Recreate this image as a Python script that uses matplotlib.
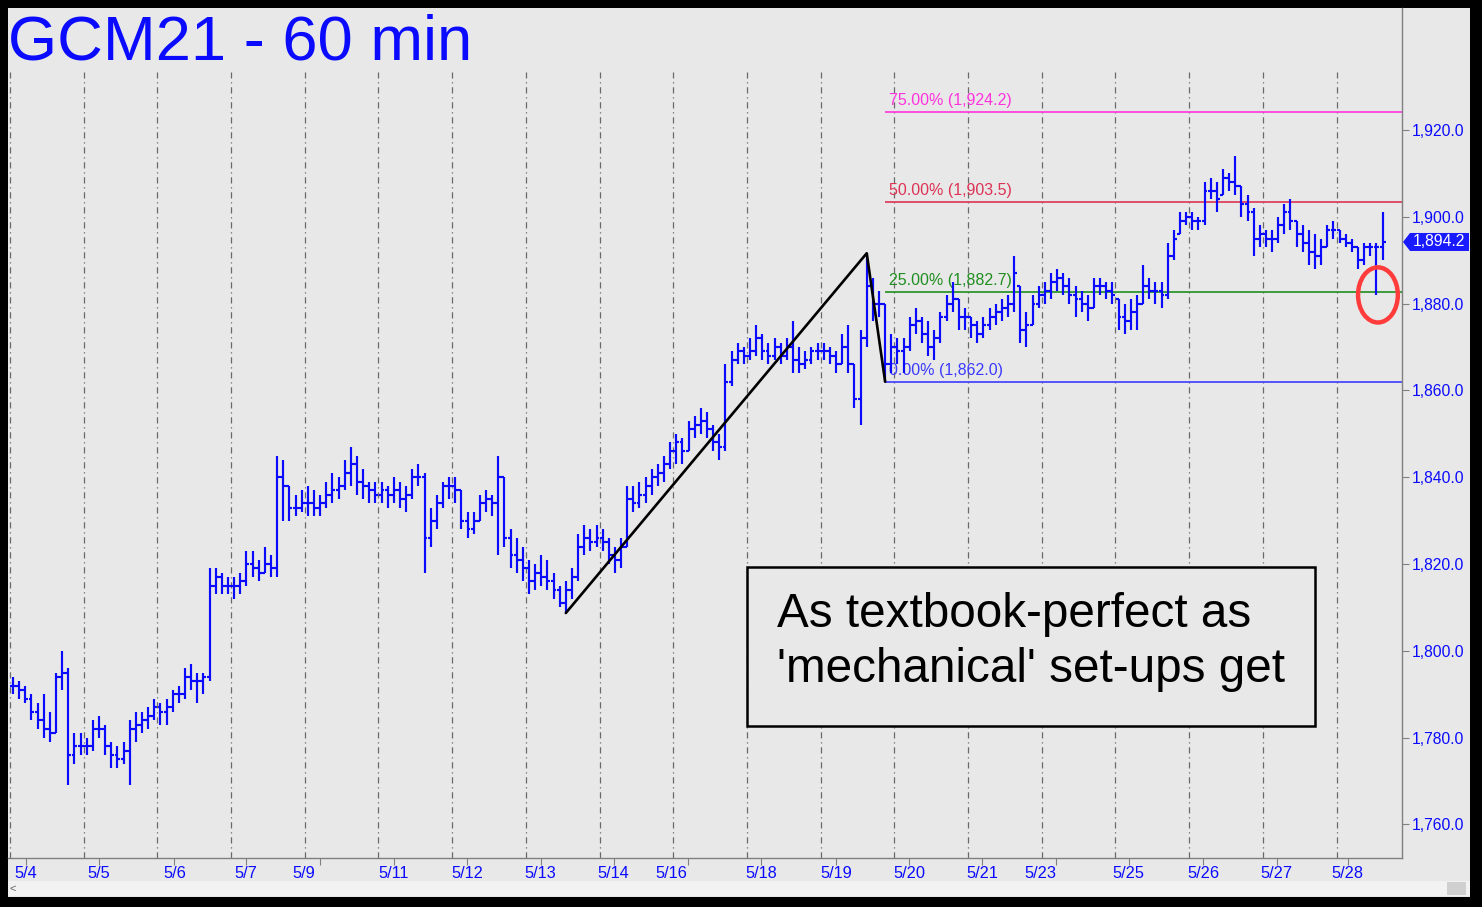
import matplotlib
matplotlib.use('Agg')
import matplotlib.pyplot as plt
import matplotlib.transforms as mtransforms
from matplotlib.patches import Rectangle, Ellipse, Polygon
import numpy as np

plt.rcParams['font.family'] = ['Liberation Sans', 'DejaVu Sans']

# ---------------- data ----------------
title = "GCM21 - 60 min"
bars_per_day = 12

highs = [
    1794, 1793, 1792, 1790, 1788, 1790, 1786, 1795, 1800, 1796, 1781, 1781,
    1780, 1784, 1785, 1783, 1779, 1778, 1779, 1784, 1786, 1786, 1787, 1789,
    1788, 1789, 1791, 1792, 1796, 1797, 1795, 1795, 1819, 1819, 1818, 1817,
    1817, 1818, 1823, 1823, 1821, 1824, 1822, 1845, 1844, 1838, 1836, 1837,
    1838, 1837, 1836, 1839, 1841, 1840, 1844, 1847, 1845, 1842, 1839, 1839,
    1839, 1838, 1840, 1839, 1838, 1842, 1843, 1841, 1833, 1836, 1839, 1840,
    1840, 1837, 1832, 1832, 1836, 1837, 1836, 1845, 1840, 1828, 1826, 1824,
    1821, 1820, 1822, 1821, 1818, 1815, 1816, 1819, 1827, 1829, 1828, 1829,
    1828, 1826, 1824, 1826, 1838, 1838, 1839, 1840, 1842, 1843, 1845, 1848,
    1850, 1849, 1853, 1854, 1856, 1855, 1852, 1850, 1866, 1869, 1871, 1870,
    1872, 1875, 1873, 1871, 1872, 1871, 1872, 1876, 1870, 1869, 1870, 1871,
    1871, 1870, 1869, 1873, 1875, 1866, 1874, 1891.6, 1886, 1883, 1880, 1873,
    1872, 1872, 1877, 1879, 1877, 1876, 1874, 1878, 1882, 1885, 1881, 1879,
    1877, 1876, 1877, 1879, 1880, 1881, 1882, 1891, 1884, 1878, 1882, 1884,
    1885, 1887, 1888, 1887, 1886, 1884, 1883, 1882, 1886, 1886, 1885, 1885,
    1881, 1880, 1881, 1882, 1889, 1886, 1885, 1885, 1894, 1897, 1901, 1901,
    1901, 1900, 1908, 1909, 1908, 1911, 1910, 1914, 1907, 1905, 1902, 1898,
    1897, 1897, 1900, 1903, 1904, 1899, 1898, 1897, 1896, 1895, 1898, 1899,
    1897, 1896, 1895, 1893, 1894, 1894, 1894, 1901,
]
lows = [
    1790, 1789, 1788, 1784, 1782, 1780, 1779, 1781, 1791, 1769, 1774, 1776,
    1776, 1777, 1780, 1776, 1773, 1773, 1774, 1769, 1779, 1781, 1782, 1784,
    1783, 1783, 1786, 1788, 1789, 1791, 1788, 1790, 1793, 1813, 1813, 1813,
    1812, 1813, 1815, 1817, 1816, 1818, 1817, 1817, 1830, 1830, 1831, 1832,
    1831, 1831, 1831, 1833, 1834, 1835, 1837, 1838, 1836, 1835, 1834, 1834,
    1834, 1833, 1834, 1833, 1832, 1835, 1838, 1818, 1824, 1828, 1833, 1835,
    1834, 1828, 1826, 1827, 1830, 1832, 1831, 1822, 1824, 1819, 1818, 1816,
    1813, 1814, 1815, 1814, 1812, 1810, 1808.7, 1812, 1816, 1822, 1823, 1824,
    1823, 1820, 1818, 1819, 1824, 1832, 1833, 1834, 1836, 1838, 1839, 1842,
    1843, 1843, 1846, 1849, 1850, 1849, 1846, 1844, 1846, 1861, 1866, 1866,
    1867, 1868, 1867, 1866, 1867, 1866, 1867, 1864, 1864, 1865, 1866, 1867,
    1867, 1866, 1864, 1866, 1864, 1856, 1852, 1870, 1876, 1877, 1862.0, 1864,
    1866, 1864, 1869, 1873, 1871, 1868, 1867, 1871, 1876, 1878, 1874, 1874,
    1872, 1871, 1872, 1874, 1875, 1876, 1877, 1878, 1871, 1870, 1875, 1879,
    1880, 1881, 1883, 1882, 1880, 1877, 1878, 1876, 1879, 1882, 1881, 1880,
    1874, 1873, 1874, 1874, 1880, 1881, 1880, 1879, 1881, 1890, 1896, 1898,
    1897, 1897, 1898, 1904, 1901, 1905, 1906, 1905, 1900, 1899, 1891, 1893,
    1893, 1892, 1894, 1896, 1897, 1893, 1892, 1889, 1888, 1889, 1893, 1895,
    1894, 1893, 1892, 1888, 1889, 1891, 1882, 1890,
]
closes = [
    1792, 1791, 1789, 1786, 1784, 1782, 1781, 1794, 1795, 1776, 1778, 1778,
    1778, 1782, 1782, 1778, 1776, 1775, 1777, 1782, 1783, 1784, 1785, 1787,
    1786, 1787, 1790, 1790, 1794, 1793, 1793, 1794, 1815, 1817, 1815, 1815,
    1815, 1816, 1820, 1819, 1818, 1820, 1819, 1840, 1838, 1833, 1833, 1834,
    1834, 1833, 1834, 1836, 1837, 1838, 1841, 1843, 1839, 1838, 1837, 1836,
    1837, 1836, 1837, 1835, 1836, 1840, 1840, 1826, 1830, 1834, 1838, 1838,
    1837, 1830, 1828, 1830, 1834, 1835, 1834, 1840, 1826, 1822, 1821, 1819,
    1816, 1818, 1817, 1816, 1814, 1811, 1814, 1817, 1824, 1826, 1825, 1826,
    1825, 1822, 1821, 1824, 1835, 1834, 1836, 1838, 1840, 1841, 1843, 1846,
    1848, 1846, 1851, 1852, 1853, 1851, 1848, 1847, 1862, 1867, 1869, 1868,
    1869, 1872, 1869, 1868, 1870, 1868, 1870, 1867, 1866, 1867, 1869, 1869,
    1869, 1868, 1866, 1870, 1866, 1858, 1872, 1884, 1880, 1880, 1866, 1870,
    1869, 1870, 1875, 1876, 1873, 1870, 1872, 1877, 1880, 1881, 1877, 1877,
    1875, 1873, 1875, 1877, 1878, 1879, 1880, 1887, 1874, 1875, 1880, 1882,
    1883, 1885, 1886, 1884, 1882, 1881, 1880, 1879, 1884, 1884, 1883, 1882,
    1877, 1876, 1878, 1880, 1884, 1883, 1883, 1882, 1891, 1895, 1899, 1900,
    1899, 1899, 1906, 1906, 1904, 1909, 1908, 1907, 1903, 1901, 1895, 1896,
    1895, 1895, 1898, 1901, 1899, 1896, 1894, 1892, 1891, 1893, 1897, 1897,
    1895, 1894, 1893, 1890, 1893, 1893, 1893, 1894.2,
]

date_labels = ['5/4', '5/5', '5/6', '5/7', '5/9', '5/11', '5/12', '5/13', '5/14', '5/16',
               '5/18', '5/19', '5/20', '5/21', '5/23', '5/25', '5/26', '5/27', '5/28']
date_ticks = [0.22, 1.21, 2.23, 3.20, 4.21, 5.21, 6.20, 7.20, 8.19, 9.20,
              10.19, 11.21, 12.20, 13.19, 14.19, 15.18, 16.19, 17.19, 18.15]
date_label_pos = [0.22, 1.21, 2.23, 3.20, 3.99, 5.21, 6.20, 7.20, 8.19, 8.98,
                  10.19, 11.21, 12.20, 13.19, 13.98, 15.18, 16.19, 17.19, 18.15]
n_days = 19

swing_idx = [90, 139, 142]          # A (low), B (high), C (low)
fib_pcts = [0.0, 25.0, 50.0, 75.0]
fib_levels = [1862.0, 1882.7, 1903.5, 1924.2]
fib_colors = ['#3a3aff', '#1f8f1f', '#dd3355', '#ff33dd']

y_ticks = [1760, 1780, 1800, 1820, 1840, 1860, 1880, 1900, 1920]
note_lines = ["As textbook-perfect as", "'mechanical' set-ups get"]

# ---------------- figure ----------------
W, H = 1482, 907
BG = '#e8e8e8'
BLUE = '#0a0aff'

def fx(p):
    return p / W

def fy(p):
    return 1 - p / H

fig = plt.figure(figsize=(W / 100, H / 100), dpi=100, facecolor='black')

bg = fig.add_axes([fx(8), fy(897), fx(1470) - fx(8), fy(8) - fy(897)])
bg.set_facecolor(BG)
bg.set_xticks([]); bg.set_yticks([])
for s in bg.spines.values():
    s.set_visible(False)
bg.set_zorder(0)

ax = fig.add_axes([fx(8), fy(858), fx(1402) - fx(8), fy(8) - fy(858)])
ax.set_facecolor(BG)
ax.set_zorder(1)
for side in ['top', 'left']:
    ax.spines[side].set_visible(False)
for side in ['right', 'bottom']:
    ax.spines[side].set_color('#808080')
    ax.spines[side].set_linewidth(1.0)

ax.set_xlim(-0.027, 18.888)
ax.set_ylim(1752.26, 1948.11)

# gridlines
for d in range(n_days):
    ax.axvline(d, ymin=0, ymax=0.925, color='#6a6a6a', lw=0.9,
               ls=(0, (5, 3, 1, 3)), zorder=1)

# OHLC bars
n = len(closes)
x = (np.arange(n) + 0.5) / bars_per_day
hi = np.array(highs, float)
lo = np.array(lows, float)
cl = np.array(closes, float)
op = np.clip(np.concatenate([[cl[0]], cl[:-1]]), lo, hi)
tw = 0.04
LW = 1.55
ax.vlines(x, lo, hi, color=BLUE, lw=LW, zorder=3)
ax.hlines(op, x - tw, x, color=BLUE, lw=LW, zorder=3)
ax.hlines(cl, x, x + tw, color=BLUE, lw=LW, zorder=3)

# swing lines A-B-C
sx = [x[swing_idx[0]], x[swing_idx[1]], x[swing_idx[2]]]
sy = [lo[swing_idx[0]], hi[swing_idx[1]], lo[swing_idx[2]]]
ax.plot(sx, sy, color='black', lw=1.9, zorder=4, solid_capstyle='round')

# fib projections
x_start = x[swing_idx[2]]
for p, lvl, c in zip(fib_pcts, fib_levels, fib_colors):
    ax.hlines(lvl, x_start, 18.888, color=c, lw=1.2, zorder=2)
    ax.text(x_start + 0.05, lvl + 0.9, f"{p:.2f}% ({lvl:,.1f})", color=c,
            fontsize=11.5, ha='left', va='bottom', zorder=2)

# red circle
ax.add_patch(Ellipse((x[222] + 0.02, 1882.0), 0.54, 12.7, fill=False,
                     edgecolor='#ff3b3b', lw=3.2, zorder=6))

# y axis on right
ax.yaxis.tick_right()
ax.set_yticks(y_ticks)
ax.set_yticklabels([f"{v:,.1f}" for v in y_ticks])
ax.tick_params(axis='y', direction='out', length=5, color='#808080',
               labelcolor=BLUE, labelsize=11.3, pad=2)

# x axis ticks and labels
ax.set_xticks(date_ticks)
ax.set_xticklabels([])
ax.tick_params(axis='x', direction='out', length=5, color='#808080')
trans = mtransforms.blended_transform_factory(ax.transData, ax.transAxes)
for lbl, pos in zip(date_labels, date_label_pos):
    ax.text(pos, -15 / 850, lbl, transform=trans, ha='center', va='center',
            color=BLUE, fontsize=11.8, clip_on=False)

# title
fig.text(fx(8), fy(60), title, color=BLUE, fontsize=45.5, ha='left', va='baseline',
         zorder=5)

# note box
box = Rectangle((fx(747), fy(726)), (1315 - 747) / W, (726 - 567) / H,
                transform=fig.transFigure, facecolor=BG, edgecolor='black',
                lw=1.8, zorder=5)
fig.patches.append(box)
fig.text(fx(777), fy(627), note_lines[0], color='black', fontsize=34.3,
         ha='left', va='baseline', zorder=6)
fig.text(fx(777), fy(682), note_lines[1], color='black', fontsize=34.3,
         ha='left', va='baseline', zorder=6)

# last price label
last_y = 130 + (1920 - cl[-1]) * 4.34
pts = [(1403, last_y), (1410, last_y - 9), (1469, last_y - 9),
       (1469, last_y + 9), (1410, last_y + 9)]
fig.patches.append(Polygon([(fx(a), fy(b)) for a, b in pts], closed=True,
                           transform=fig.transFigure, facecolor='#1a1aff',
                           edgecolor='none', zorder=5))
fig.text(fx(1439), fy(last_y), f"{cl[-1]:,.1f}", color='white', fontsize=11.3,
         ha='center', va='center', zorder=6)

# scrollbar
fig.patches.append(Rectangle((fx(8), fy(896)), (1470 - 8) / W, (896 - 881) / H,
                             transform=fig.transFigure, facecolor='#f2f2f2',
                             edgecolor='none', zorder=2))
fig.patches.append(Rectangle((fx(1447), fy(895)), (1466 - 1447) / W, (895 - 882) / H,
                             transform=fig.transFigure, facecolor='#d0d0d0',
                             edgecolor='none', zorder=3))
fig.text(fx(13), fy(889), '<', color='#606060', fontsize=8, ha='center',
         va='center', zorder=4)

fig.savefig('out.png', dpi=100, facecolor='black')
